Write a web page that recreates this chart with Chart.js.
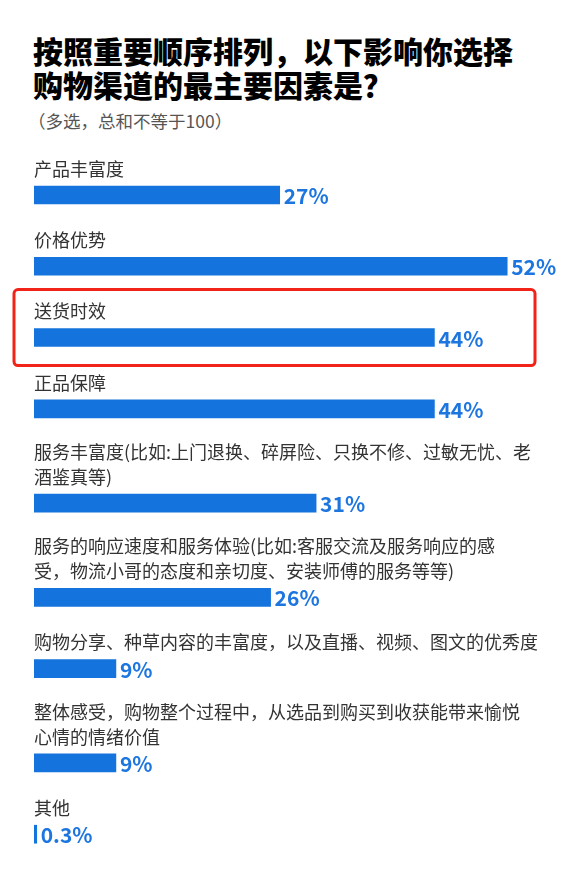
<!DOCTYPE html>
<html>
<head>
<meta charset="utf-8">
<script src="https://cdn.jsdelivr.net/npm/chart.js@4.4.1/dist/chart.umd.min.js"></script>
<style>
body { margin: 0; background: #fff; font-family: "Noto Sans CJK SC", sans-serif; }
#wrap { position: relative; width: 585px; height: 874px; overflow: hidden; }
.title { position: absolute; left: 33px; top: 33px; font-size: 30px; line-height: 34px; font-weight: 900; color: #000; }
.sub { position: absolute; left: 28px; top: 110px; font-size: 17.5px; line-height: 22px; color: #555; }
canvas { position: absolute; left: 0; top: 0; }
</style>
</head>
<body>
<div id="wrap">
  <div class="title">按照重要顺序排列，以下影响你选择<br>购物渠道的最主要因素是？</div>
  <div class="sub">（多选，总和不等于100）</div>
  <canvas id="chart" width="585" height="874"></canvas>
</div>
<script>
// categories, one entry per line of the label
var categories = [
  ['产品丰富度'],
  ['价格优势'],
  ['送货时效'],
  ['正品保障'],
  ['服务丰富度(比如:上门退换、碎屏险、只换不修、过敏无忧、老', '酒鉴真等)'],
  ['服务的响应速度和服务体验(比如:客服交流及服务响应的感', '受，物流小哥的态度和亲切度、安装师傅的服务等等)'],
  ['购物分享、种草内容的丰富度，以及直播、视频、图文的优秀度'],
  ['整体感受，购物整个过程中，从选品到购买到收获能带来愉悦', '心情的情绪价值'],
  ['其他']
];
var values = [27, 52, 44, 44, 31, 26, 9, 9, 0.3];
var highlighted = 2;

// y position of each bar in "text line" units: the next label pushes the bar down
var rowPos = [];
var p = 0;
for (var i = 0; i < categories.length; i++) {
  if (i > 0) p += 2.1 + categories[i].length;
  rowPos.push(p);
}

var labelPlugin = {
  id: 'labels',
  afterDatasetsDraw: function (chart) {
    var c = chart.ctx;
    var area = chart.chartArea;
    var bars = chart.getDatasetMeta(0).data;
    c.save();
    bars.forEach(function (bar, i) {
      var lines = categories[i];
      c.font = '18px "Noto Sans CJK SC"';
      c.fillStyle = '#333';
      c.textAlign = 'left';
      c.textBaseline = 'middle';
      lines.forEach(function (t, j) {
        c.fillText(t, area.left, bar.y - 26 - (lines.length - 1 - j) * 25);
      });
      c.font = 'bold 21px "Noto Sans CJK SC"';
      c.fillStyle = '#1d76e0';
      var txt = (values[i] < 1 ? values[i].toFixed(1) : values[i]) + '%';
      c.fillText(txt, bar.x + 4, bar.y + 1);
    });
    // red box around the highlighted item
    var hb = bars[highlighted];
    c.strokeStyle = '#f2241a';
    c.lineWidth = 3;
    c.beginPath();
    c.roundRect(area.left - 20, hb.y - 48, 521, 76, 4);
    c.stroke();
    c.restore();
  }
};

var chart = new Chart(document.getElementById('chart'), {
  type: 'bar',
  data: {
    datasets: [{
      data: values.map(function (v, i) { return { x: v, y: rowPos[i] }; }),
      backgroundColor: '#1473dc',
      borderWidth: 0,
      barThickness: 18
    }]
  },
  options: {
    indexAxis: 'y',
    responsive: false,
    animation: false,
    layout: { padding: { top: 103, bottom: 3, left: 34, right: 5 } },
    scales: {
      x: { type: 'linear', min: 0, max: 60, display: false, offset: false },
      y: { type: 'linear', min: -4, max: 29.4, reverse: true, display: false, offset: false }
    },
    plugins: { legend: { display: false }, tooltip: { enabled: false } }
  },
  plugins: [labelPlugin]
});
</script>
</body>
</html>
